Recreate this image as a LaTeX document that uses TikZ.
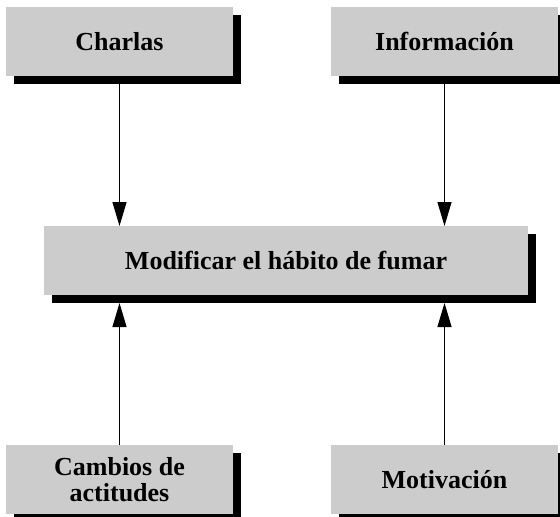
\documentclass[tikz,border=0pt]{standalone}
\usepackage{fontspec}
\setmainfont{Liberation Serif}
\usepackage{tikz}
\usetikzlibrary{arrows.meta, positioning, shadows}

\definecolor{cajagris}{HTML}{CCCCCC}
\tikzset{
  caja/.style={fill=cajagris, minimum width=227pt, minimum height=69pt,
    inner sep=0pt, outer sep=0pt, align=center,
    font=\fontsize{26}{26}\selectfont\bfseries,
    drop shadow={shadow xshift=8pt, shadow yshift=-8pt, fill=black, opacity=1}},
}

\begin{document}
\begin{tikzpicture}[x=1pt, y=-1pt, >={Triangle[length=24pt, width=14pt]}, line width=1.2pt]
  \useasboundingbox (0,0) rectangle (560,517);
  \node[caja] (charlas) at (119.5,41.5) {Charlas};
  \node[caja, right=98pt of charlas] (info) {Información};
  \node[caja, minimum width=484pt] (meta) at (286,260.5) {Modificar el hábito de fumar};
  \node[caja, below=369pt of charlas] (cambios) {Cambios de\\actitudes};
  \node[caja, right=98pt of cambios] (motiv) {Motivación};
  % flechas hacia la meta
  \draw[->] (charlas.south) -- (charlas.south |- meta.north);
  \draw[->] (info.south) -- (info.south |- meta.north);
  \draw[->] (cambios.north) -- ([yshift=-8pt]cambios.north |- meta.south);
  \draw[->] (motiv.north) -- ([yshift=-8pt]motiv.north |- meta.south);
\end{tikzpicture}
\end{document}
